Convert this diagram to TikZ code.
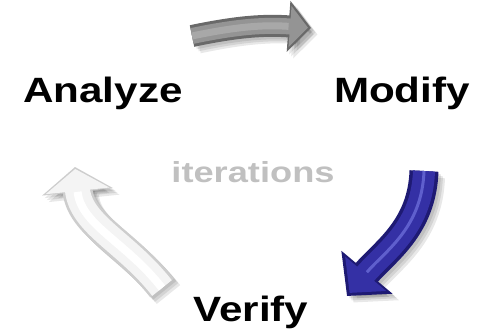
\documentclass[tikz,border=0pt]{standalone}
\usepackage{fontspec}
\setmainfont{Liberation Sans}
\usepackage{graphicx}
\usetikzlibrary{arrows.meta}

\definecolor{rimgray}{RGB}{105,105,105}
\definecolor{facegray}{RGB}{148,148,148}
\definecolor{shinegray}{RGB}{168,168,168}
\definecolor{rimblue}{RGB}{30,26,115}
\definecolor{faceblue}{RGB}{52,48,165}
\definecolor{shineblue}{RGB}{95,95,205}
\definecolor{rimwhite}{RGB}{205,205,205}
\definecolor{facewhite}{RGB}{244,244,244}
\definecolor{itergray}{RGB}{192,192,192}

\begin{document}
\begin{tikzpicture}[
    steplabel/.style={font=\bfseries\fontsize{20}{22}\selectfont, anchor=base},
    iterlabel/.style={font=\bfseries\fontsize{16.5}{18}\selectfont, anchor=base, text=itergray},
    softshadow/.style={black, opacity=0.09, transform canvas={shift={(#1,-#1)}}},
]

    \useasboundingbox (0,0) rectangle (9.7,6.64);

    % ============================================================
    % STEP LABELS
    % ============================================================
    \node[steplabel] (analyze) at (2.06,4.58) {\scalebox{1.2}[1]{Analyze}};
    \node[steplabel] (modify)  at (8.04,4.58) {\scalebox{1.2}[1]{Modify}};
    \node[steplabel] (verify)  at (5.02,0.22) {\scalebox{1.2}[1]{Verify}};
    \node[iterlabel] (iter)    at (5.06,2.98) {\scalebox{1.25}[1]{iterations}};

    % ============================================================
    % ARROW END POINTS
    % ============================================================
    \coordinate (topTail)   at (3.84,5.92);
    \coordinate (topTip)    at (6.22,6.08);
    \coordinate (blueTail)  at (8.48,3.22);
    \coordinate (blueTip)   at (6.94,0.72);
    \coordinate (whiteTail) at (3.24,0.88);
    \coordinate (whiteTip)  at (1.50,3.30);

    % ============================================================
    % GRAY ARROW (ANALYZE -> MODIFY)
    % ============================================================
    \foreach \s in {0.05,0.09,0.13}
        \draw[softshadow=\s, line width=0.44cm, -{Triangle[length=0.45cm,width=1.0cm]}]
            (topTail) to[bend left=8] (topTip);
    \draw[rimgray, line width=0.44cm, -{Triangle[length=0.45cm,width=1.0cm]}]
        (topTail) to[bend left=8] (topTip);
    \draw[facegray, line width=0.32cm, shorten >=0.06cm,
          -{Triangle[length=0.36cm,width=0.80cm]}]
        (topTail) to[bend left=8] (topTip);
    \draw[shinegray, line width=0.14cm, shorten >=0.45cm]
        (topTail) to[bend left=8] (topTip);

    % ============================================================
    % BLUE ARROW (MODIFY -> VERIFY)
    % ============================================================
    \foreach \s in {0.05,0.09,0.13}
        \draw[softshadow=\s, line width=0.58cm, -{Triangle[length=0.62cm,width=1.3cm]}]
            (blueTail) to[out=-92, in=50] (blueTip);
    \draw[rimblue, line width=0.58cm, -{Triangle[length=0.62cm,width=1.3cm]}]
        (blueTail) to[out=-92, in=50] (blueTip);
    \draw[faceblue, line width=0.44cm, shorten >=0.08cm,
          -{Triangle[length=0.50cm,width=1.04cm]}]
        (blueTail) to[out=-92, in=50] (blueTip);
    \draw[shineblue, line width=0.06cm, shorten >=0.62cm]
        (blueTail) to[out=-92, in=50] (blueTip);

    % ============================================================
    % WHITE ARROW (VERIFY -> ANALYZE)
    % ============================================================
    \foreach \s in {0.05,0.09,0.13}
        \draw[softshadow=\s, line width=0.60cm, -{Triangle[length=0.50cm,width=1.4cm]}]
            (whiteTail) to[out=128, in=-84] (whiteTip);
    \draw[rimwhite, line width=0.60cm, -{Triangle[length=0.50cm,width=1.4cm]}]
        (whiteTail) to[out=128, in=-84] (whiteTip);
    \draw[facewhite, line width=0.50cm, shorten >=0.04cm,
          -{Triangle[length=0.44cm,width=1.26cm]}]
        (whiteTail) to[out=128, in=-84] (whiteTip);
    \draw[white, line width=0.16cm, shorten >=0.50cm]
        (whiteTail) to[out=128, in=-84] (whiteTip);

\end{tikzpicture}
\end{document}
